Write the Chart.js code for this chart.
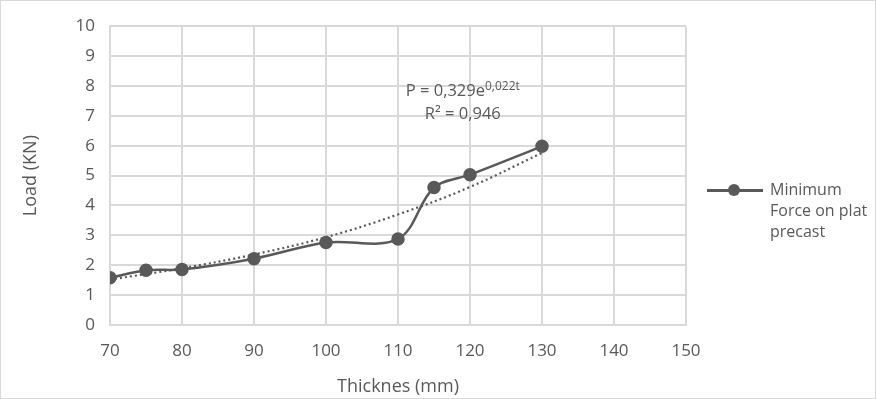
<!DOCTYPE html>
<html>
<head>
<meta charset="utf-8">
<script src="https://cdn.jsdelivr.net/npm/chart.js@4"></script>
<style>
  html, body { margin: 0; padding: 0; background: #fff; }
  .wrap {
    position: relative; width: 876px; height: 399px; box-sizing: border-box;
    border: 1px solid #d9d9d9; overflow: hidden;
  }
  canvas { position: absolute; left: 0; top: 0; }
  .legend {
    position: absolute; left: 706px; top: 178px;
    font: 16px "Open Sans", sans-serif; color: #595959; line-height: 21px;
    display: flex; align-items: flex-start;
  }
  .legend .key { position: relative; width: 56px; height: 21px; margin-right: 7px; }
  .legend .key::before {
    content: ""; position: absolute; left: 0; right: 0; top: 10px; height: 3px; background: #595959;
  }
  .legend .key::after {
    content: ""; position: absolute; left: 21px; top: 5px; width: 12px; height: 12px;
    border-radius: 50%; background: #595959;
  }
</style>
</head>
<body>
<div class="wrap">
  <canvas id="chart" width="874" height="397"></canvas>
  <div class="legend"><div class="key"></div><div>Minimum<br>Force on plat<br>precast</div></div>
</div>
<script>
/* ── Data ── */
const thickness   = [70, 75, 80, 90, 100, 110, 115, 120, 130];
const minForce    = [1.58, 1.83, 1.86, 2.22, 2.76, 2.88, 4.60, 5.03, 5.98];
const trendX      = [70, 80, 90, 100, 110, 120, 130];
const trendY      = [1.52, 1.90, 2.36, 2.94, 3.70, 4.62, 5.76];
const xTicks      = [70, 80, 90, 100, 110, 120, 130, 140, 150];
const yTicks      = [0, 1, 2, 3, 4, 5, 6, 7, 8, 9, 10];
const eqMain      = "P = 0,329e";
const eqExp       = "0,022t";
const eqR2        = "R² = 0,946";

const TXT = "#595959";
const GRID = "#d9d9d9";
const FONT = '"Open Sans", sans-serif';
const FS = 17;      // tick labels
const FT = 18;      // axis titles
const FE = 16.5;    // equation

// equation label, drawn at data position
const eqLabel = {
  id: "eqLabel",
  afterDatasetsDraw(chart) {
    const { ctx, scales: { x, y } } = chart;
    const cx = x.getPixelForValue(119);
    ctx.save();
    ctx.fillStyle = TXT;
    ctx.textBaseline = "middle";
    ctx.font = FE + "px " + FONT;
    const w1 = ctx.measureText(eqMain).width;
    ctx.font = "12px " + FONT;
    const w2 = ctx.measureText(eqExp).width;
    const left = cx - (w1 + w2) / 2;
    const y1 = y.getPixelForValue(7.82);
    ctx.font = FE + "px " + FONT;
    ctx.textAlign = "left";
    ctx.fillText(eqMain, left, y1);
    ctx.font = "12px " + FONT;
    ctx.fillText(eqExp, left + w1, y1 - 5);
    ctx.font = FE + "px " + FONT;
    ctx.textAlign = "center";
    ctx.fillText(eqR2, cx, y.getPixelForValue(7.04));
    ctx.restore();
  }
};

new Chart(document.getElementById("chart"), {
  type: "scatter",
  data: {
    datasets: [
      {
        label: "Minimum Force on plat precast",
        data: thickness.map((t, i) => ({ x: t, y: minForce[i] })),
        showLine: true,
        borderColor: TXT,
        backgroundColor: TXT,
        borderWidth: 2.5,
        tension: 0.35,
        pointRadius: 5.5,
        pointHoverRadius: 5.5,
        order: 1,
      },
      {
        label: "trend",
        data: trendX.map((t, i) => ({ x: t, y: trendY[i] })),
        showLine: true,
        borderColor: TXT,
        borderWidth: 2.2,
        borderDash: [2, 3],
        borderCapStyle: "butt",
        tension: 0.4,
        pointRadius: 0,
        order: 2,
      }
    ]
  },
  options: {
    responsive: false,
    animation: false,
    layout: { padding: { left: 0, right: 189, top: 21, bottom: 0 } },
    plugins: { legend: { display: false }, tooltip: { enabled: false } },
    scales: {
      x: {
        type: "linear", min: 70, max: 150,
        afterBuildTicks: s => { s.ticks = xTicks.map(v => ({ value: v })); },
        afterFit: s => { s.height = 73; },
        grid: { color: GRID, lineWidth: 2, drawTicks: false },
        border: { color: GRID, width: 2 },
        ticks: { color: TXT, font: { family: FONT, size: FS }, padding: 16, maxRotation: 0 },
        title: {
          display: true, text: "Thicknes (mm)", color: TXT,
          font: { family: FONT, size: FT }, padding: { top: 15, bottom: 0 }
        }
      },
      y: {
        type: "linear", min: 0, max: 10,
        afterBuildTicks: s => { s.ticks = yTicks.map(v => ({ value: v })); },
        afterFit: s => { s.width = 109; },
        grid: { color: GRID, lineWidth: 2, drawTicks: false },
        border: { color: GRID, width: 2 },
        ticks: { color: TXT, font: { family: FONT, size: FS }, padding: 15 },
        title: {
          display: true, text: "Load (KN)", color: TXT,
          font: { family: FONT, size: FT }, padding: { top: 19, bottom: 0 }
        }
      }
    }
  },
  plugins: [eqLabel]
});
</script>
</body>
</html>
